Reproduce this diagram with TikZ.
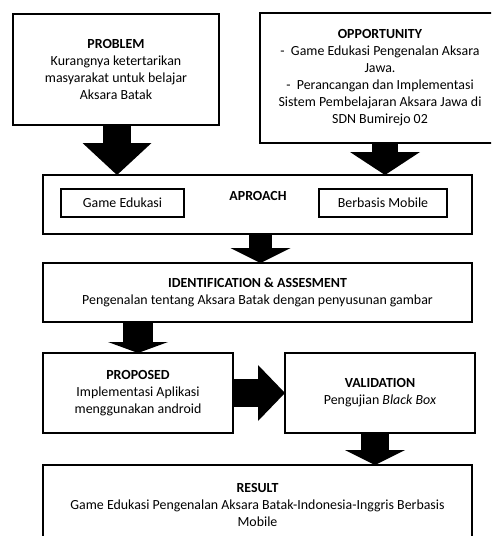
\documentclass[tikz,border=0pt]{standalone}
\usepackage{fontspec}
\setmainfont{Carlito}
\usepackage{tikz}
\usetikzlibrary{arrows.meta, positioning, calc}

\begin{document}
\begin{tikzpicture}[x=1pt,y=-1pt,
    box/.style={draw,line width=1.6pt,inner sep=0pt,outer sep=0pt,align=center},
    subbox/.style={draw,line width=1.4pt,inner sep=0pt,outer sep=0pt,minimum width=#1pt,minimum height=28pt},
    bigarrow/.style n args={3}{line width=#1pt,-{Triangle[width=#2pt,length=#3pt,line width=0pt]}},
    font=\fontsize{13.9}{17}\selectfont]
    \useasboundingbox (0,0) rectangle (491,536);
    \clip (0,0) rectangle (491,536);
    \node[box,minimum width=206pt,minimum height=111pt] (problem) at (116,69.5)
        {\textbf{PROBLEM}\\Kurangnya ketertarikan\\masyarakat untuk belajar\\Aksara Batak};
    \node[box,minimum width=240pt,minimum height=130pt] (opportunity) at (380,78)
        {\textbf{OPPORTUNITY}\\-\ \ Game Edukasi Pengenalan Aksara\\Jawa.\\-\ \ Perancangan dan Implementasi\\Sistem Pembelajaran Aksara Jawa di\\SDN Bumirejo 02};
    \node[box,minimum width=429pt,minimum height=59pt] (approach) at (257.5,204.5) {};
    \node[font=\fontsize{13.9}{17}\selectfont\bfseries] (approachlabel) at (258,196) {APROACH};
    \node[subbox=123] (game) at (122.5,203) {Game Edukasi};
    \node[subbox=128] (mobile) at (383,203) {Berbasis Mobile};
    \node[box,minimum width=429pt,minimum height=59pt] (ident) at (257.5,292.5)
        {\textbf{IDENTIFICATION \& ASSESMENT}\\Pengenalan tentang Aksara Batak dengan penyusunan gambar};
    \node[box,minimum width=190pt,minimum height=80pt] (proposed) at (138,393)
        {\textbf{PROPOSED}\\Implementasi Aplikasi\\menggunakan android};
    \node[box,minimum width=190pt,minimum height=80pt] (validation) at (380,393)
        {\textbf{VALIDATION}\\Pengujian \textit{Black Box}};
    \node[box,minimum width=429pt,minimum height=80pt] (result) at (257.5,505)
        {\textbf{RESULT}\\Game Edukasi Pengenalan Aksara Batak-Indonesia-Inggris Berbasis\\Mobile};
    \coordinate (opptail) at ($(opportunity.south)+(5,0)$);
    \coordinate (apptail) at ($(approach.south)+(3,0)$);
    \coordinate (valtail) at ($(validation.south)+(-5,0)$);
    \draw[bigarrow={28}{69}{32}] ($(problem.south)+(1,0)$) -- ($(problem.south |- approach.north)+(1,0)$);
    \draw[bigarrow={26}{70}{23}] (opptail) -- (opptail |- approach.north);
    \draw[bigarrow={23}{60}{15}] (apptail) -- (apptail |- ident.north);
    \draw[bigarrow={30}{60}{11}] (ident.south -| proposed.north) -- (proposed.north);
    \draw[bigarrow={28}{56}{27}] (proposed.east) -- (validation.west);
    \draw[bigarrow={28}{60}{15}] (valtail) -- (valtail |- result.north);
\end{tikzpicture}
\end{document}
